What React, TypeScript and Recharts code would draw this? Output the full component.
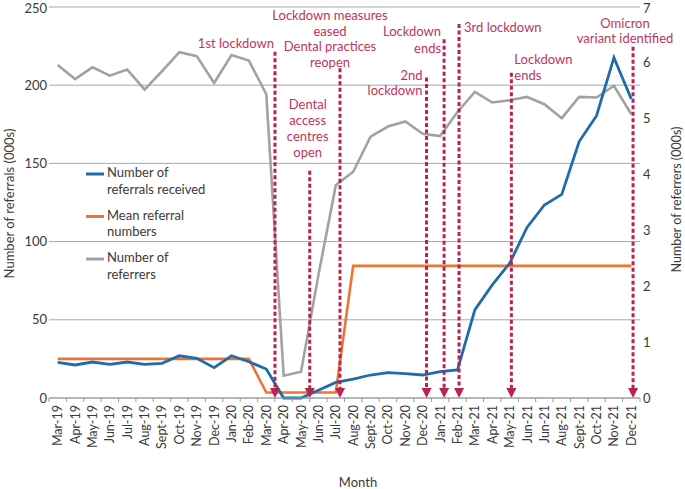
import React from 'react';
import { LineChart, Line, XAxis, YAxis, CartesianGrid, ReferenceLine, Legend } from 'recharts';

// ---------- data ----------
const months = [
  'Mar-19', 'Apr-19', 'May-19', 'Jun-19', 'Jul-19', 'Aug-19', 'Sept-19', 'Oct-19', 'Nov-19', 'Dec-19',
  'Jan-20', 'Feb-20', 'Mar-20', 'Apr-20', 'May-20', 'Jun-20', 'Jul-20', 'Aug-20', 'Sept-20', 'Oct-20',
  'Nov-20', 'Dec-20', 'Jan-21', 'Feb-21', 'Mar-21', 'Apr-21', 'May-21', 'Jun-21', 'Jun-21', 'Aug-21',
  'Sept-21', 'Oct-21', 'Nov-21', 'Dec-21',
];

// Number of referrals received (000s) - left axis
const referralsReceived = [
  22.8, 21.1, 23, 21.5, 23, 21.5, 22.2, 27, 25.4, 19.4,
  27, 23.2, 18.5, 0, 0, 5, 10, 12, 14.7, 16.2,
  15.6, 14.7, 16.8, 17.9, 56.3, 72.3, 86.1, 109.1, 123.4, 130.2,
  164, 180.5, 217.6, 191.2,
];

// Mean referral numbers (000s) - left axis
const meanReferralNumbers = [
  25, 25, 25, 25, 25, 25, 25, 25, 25, 25,
  25, 25, 3.5, 3.5, 3.5, 3.5, 3.5, 84.5, 84.5, 84.5,
  84.5, 84.5, 84.5, 84.5, 84.5, 84.5, 84.5, 84.5, 84.5, 84.5,
  84.5, 84.5, 84.5, 84.5,
];

// Number of referrers (000s) - right axis
const referrers = [
  5.96, 5.71, 5.92, 5.77, 5.88, 5.52, 5.85, 6.19, 6.12, 5.64,
  6.14, 6.04, 5.44, 0.4, 0.47, 2.2, 3.81, 4.05, 4.68, 4.86,
  4.95, 4.73, 4.69, 5.12, 5.48, 5.29, 5.33, 5.39, 5.26, 5.01,
  5.39, 5.38, 5.59, 5.08,
];

const leftTicks = [0, 50, 100, 150, 200, 250];
const rightTicks = [0, 1, 2, 3, 4, 5, 6, 7];

const seriesNames = ['Number of referrals received', 'Mean referral numbers', 'Number of referrers'];

// events: position in month index, top of the marker (left-axis units), text lines
const eventPositions = [12.5, 14.5, 16.24, 21.22, 22.23, 23.09, 26.1, 33.1];
const eventTops = [221.4, 145.3, 210.8, 205, 229.3, 239.1, 208, 224.6];
const eventLines = [
  ['1st lockdown'],
  ['Dental', 'access', 'centres', 'open'],
  ['Lockdown measures', 'eased', 'Dental practices', 'reopen'],
  ['2nd', 'lockdown'],
  ['Lockdown', 'ends'],
  ['3rd lockdown'],
  ['Lockdown', 'ends'],
  ['Omicron', 'variant identified'],
];

// ---------- layout / style ----------
const W = 685;
const H = 489;
const LEFT_W = 49;
const RIGHT_W = 45;
const BAND = (W - LEFT_W - RIGHT_W) / months.length;
const FONT = 'Lato, "Open Sans", sans-serif';
const BLUE = '#1f6cab';
const ORANGE = '#ee7431';
const GREY = '#a2a2a2';
const RED = '#b8234f';
const RED_TEXT = '#c0345c';
const TEXT = '#3a3a3a';
const AXIS = '#9a9a9a';

const labelLayout = [
  { anchor: 'end', dx: -1, dys: [-9] },
  { anchor: 'middle', dx: -2, dys: [-67, -51, -35, -19] },
  { anchor: 'middle', dx: -10, dys: [-53, -37, -22, -6] },
  { anchor: 'end', dx: -4, dys: [-2, 13] },
  { anchor: 'end', dx: -3, dys: [-8, 9] },
  { anchor: 'start', dx: 5, dys: [3] },
  { anchor: 'start', dx: 3, dys: [-14, 2] },
  { anchor: 'middle', dx: -8, dys: [-23.5, -9] },
];

const legendLines = [
  ['Number of', 'referrals received'],
  ['Mean referral', 'numbers'],
  ['Number of', 'referrers'],
];
const legendColors = [BLUE, ORANGE, GREY];

const data = months.map((m, i) => ({
  idx: i,
  month: m,
  received: referralsReceived[i],
  mean: meanReferralNumbers[i],
  referrers: referrers[i],
}));

const MonthTick = (props: any) => {
  const { x, y, payload } = props;
  const i = payload.value as number;
  const half = BAND / 2;
  return (
    <g>
      <line x1={x - half} x2={x - half} y1={y} y2={y + 4} stroke={AXIS} strokeWidth={1} />
      {i === months.length - 1 && (
        <line x1={x + half} x2={x + half} y1={y} y2={y + 4} stroke={AXIS} strokeWidth={1} />
      )}
      <text
        x={x}
        y={y + 7}
        transform={`rotate(-90 ${x} ${y + 7})`}
        textAnchor="end"
        dominantBaseline="central"
        fontFamily={FONT}
        fontSize={12.5}
        fill={TEXT}
      >
        {months[i]}
      </text>
    </g>
  );
};

const XTitle = (props: any) => {
  const vb = props.viewBox || {};
  return (
    <text
      x={vb.x + vb.width / 2 + 13.5}
      y={vb.y + 84}
      textAnchor="middle"
      dominantBaseline="central"
      fontFamily={FONT}
      fontSize={13}
      fill={TEXT}
    >
      Month
    </text>
  );
};

const LeftTitle = (props: any) => {
  const vb = props.viewBox || {};
  const cx = vb.x + 9;
  const cy = vb.y + vb.height / 2 + 1;
  return (
    <text
      x={cx}
      y={cy}
      transform={`rotate(-90 ${cx} ${cy})`}
      textAnchor="middle"
      dominantBaseline="central"
      fontFamily={FONT}
      fontSize={13}
      fill={TEXT}
    >
      Number of referrals (000s)
    </text>
  );
};

const RightTitle = (props: any) => {
  const vb = props.viewBox || {};
  const cx = vb.x + 36.5;
  const cy = vb.y + vb.height / 2 - 3;
  return (
    <text
      x={cx}
      y={cy}
      transform={`rotate(-90 ${cx} ${cy})`}
      textAnchor="middle"
      dominantBaseline="central"
      fontFamily={FONT}
      fontSize={12.5}
      fill={TEXT}
    >
      Number of referrers (000s)
    </text>
  );
};

const ArrowLine = (p: any) => {
  const { x1, y1, y2 } = p;
  const yTop = Math.min(y1, y2);
  const yBot = Math.max(y1, y2);
  return (
    <g>
      <line
        x1={x1}
        x2={x1}
        y1={yTop}
        y2={yBot - 8}
        stroke={RED}
        strokeWidth={3}
        strokeDasharray="4 2.5"
      />
      <polygon points={`${x1 - 5},${yBot - 10} ${x1 + 5},${yBot - 10} ${x1},${yBot}`} fill={RED} />
    </g>
  );
};

const makeEventLabel = (k: number) => (props: any) => {
  const vb = props.viewBox || {};
  const lay = labelLayout[k];
  return (
    <g>
      {eventLines[k].map((t, j) => (
        <text
          key={j}
          x={vb.x + lay.dx}
          y={vb.y + lay.dys[j]}
          textAnchor={lay.anchor as any}
          dominantBaseline="central"
          fontFamily={FONT}
          fontSize={13}
          fill={RED_TEXT}
        >
          {t}
        </text>
      ))}
    </g>
  );
};

const renderLegend = () => (
  <svg width={130} height={125} style={{ display: 'block' }}>
    {legendLines.map((lines, i) => {
      const y0 = i * 42.5;
      return (
        <g key={i}>
          <line x1={0} x2={18} y1={y0 + 14} y2={y0 + 14} stroke={legendColors[i]} strokeWidth={3} />
          {lines.map((t, j) => (
            <text
              key={j}
              x={21}
              y={y0 + 12 + j * 16.5}
              dominantBaseline="central"
              fontFamily={FONT}
              fontSize={13}
              fill={TEXT}
            >
              {t}
            </text>
          ))}
        </g>
      );
    })}
  </svg>
);

export default function App() {
  return (
    <div style={{ position: 'absolute', left: 0, top: 0, width: W, height: H, background: '#fff' }}>
      <LineChart width={W} height={H} data={data} margin={{ top: 7, right: 0, bottom: 0, left: 0 }}>
        <CartesianGrid vertical={false} yAxisId="left" stroke="#a8a8a8" strokeWidth={1} />
        <XAxis
          dataKey="idx"
          type="number"
          domain={[-0.5, months.length - 0.5]}
          ticks={months.map((_, i) => i)}
          interval={0}
          tick={<MonthTick />}
          tickLine={false}
          tickSize={0}
          tickMargin={0}
          axisLine={{ stroke: AXIS, strokeWidth: 1 }}
          height={91}
          label={<XTitle />}
        />
        <YAxis
          yAxisId="left"
          domain={[0, 250]}
          ticks={leftTicks}
          width={LEFT_W}
          axisLine={false}
          tickLine={false}
          tickSize={0}
          tickMargin={2}
          tick={{ fontFamily: FONT, fontSize: 13, fill: TEXT }}
          label={<LeftTitle />}
        />
        <YAxis
          yAxisId="right"
          orientation="right"
          domain={[0, 7]}
          ticks={rightTicks}
          width={RIGHT_W}
          axisLine={false}
          tickLine={false}
          tickSize={0}
          tickMargin={3}
          tick={{ fontFamily: FONT, fontSize: 13, fill: TEXT }}
          label={<RightTitle />}
        />
        <Legend
          content={renderLegend}
          layout="vertical"
          align="center"
          verticalAlign="middle"
          wrapperStyle={{ left: 86, top: 160, width: 130, height: 125 }}
        />
        <Line
          yAxisId="right"
          dataKey="referrers"
          name={seriesNames[2]}
          stroke={GREY}
          strokeWidth={2.6}
          dot={false}
          activeDot={false}
          isAnimationActive={false}
        />
        <Line
          yAxisId="left"
          dataKey="mean"
          name={seriesNames[1]}
          stroke={ORANGE}
          strokeWidth={2.6}
          dot={false}
          activeDot={false}
          isAnimationActive={false}
        />
        <Line
          yAxisId="left"
          dataKey="received"
          name={seriesNames[0]}
          stroke={BLUE}
          strokeWidth={2.8}
          dot={false}
          activeDot={false}
          isAnimationActive={false}
        />
        {eventPositions.map((ex, k) => (
          <ReferenceLine
            key={k}
            yAxisId="left"
            segment={[
              { x: ex, y: eventTops[k] },
              { x: ex, y: 0 },
            ]}
            shape={ArrowLine}
            label={makeEventLabel(k)}
          />
        ))}
      </LineChart>
    </div>
  );
}
